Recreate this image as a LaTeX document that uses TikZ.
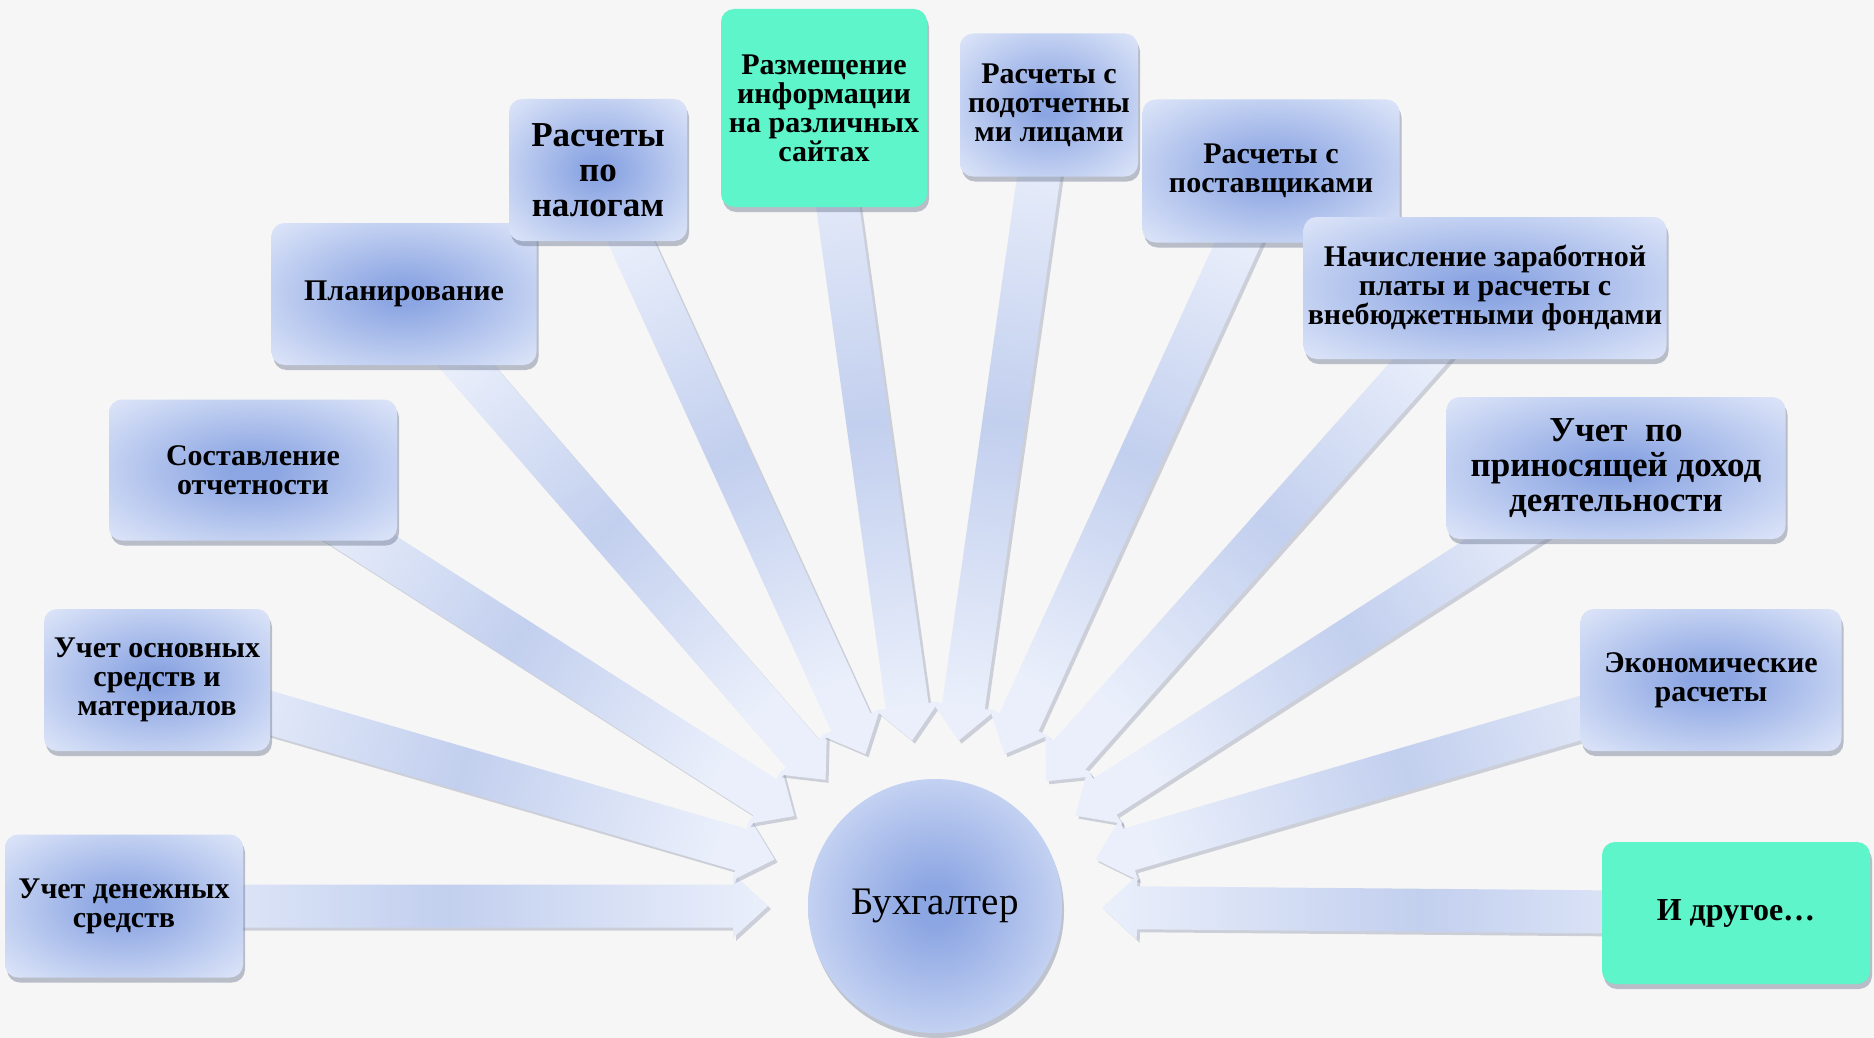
\documentclass[tikz,border=0pt]{standalone}
\usepackage{fontspec}
\setmainfont{Liberation Serif}
\usetikzlibrary{calc,shadows}

\definecolor{boxin}{HTML}{8CA6E3}
\definecolor{boxedge}{HTML}{D0DBF5}
\definecolor{boxcorner}{HTML}{EDF1FB}
\definecolor{beamend}{HTML}{EAEFFB}
\definecolor{beammid}{HTML}{C2CFEE}
\definecolor{mint}{HTML}{5DF5C9}
\definecolor{paper}{HTML}{F6F6F6}
\definecolor{shadowc}{HTML}{6D7891}

\pgfdeclareradialshading{glow}{\pgfpointorigin}{color(0bp)=(boxin); color(4bp)=(boxin); color(30bp)=(boxedge); color(42bp)=(boxcorner); color(50bp)=(boxcorner)}
\pgfdeclarehorizontalshading{beamshade}{100bp}{color(0bp)=(beamend); color(25bp)=(beamend); color(50bp)=(beammid); color(75bp)=(beamend); color(100bp)=(beamend)}

\pgfdeclarelayer{paperlayer}
\pgfdeclarelayer{beamlayer}
\pgfsetlayers{paperlayer,beamlayer,main}

% block arrow from a box towards the hub
\newcommand\drawbeam[2]{%
  \coordinate (#1-tip) at ($(#2)!83.5pt!(#1)$);
  \coordinate (#1-neck) at ($(#1-tip)!17.5pt!(#1)$);
  \pgfmathanglebetweenpoints{\pgfpointanchor{#1}{center}}{\pgfpointanchor{#1-tip}{center}}%
  \let\beamangle\pgfmathresult
  \shade[beam, shading angle=\beamangle]
    ($(#1)!10.75pt!90:(#1-neck)$) -- ($(#1-neck)!10.75pt!-90:(#1)$)
    -- ($(#1-neck)!16pt!-90:(#1)$) -- (#1-tip)
    -- ($(#1-neck)!16pt!90:(#1)$) -- ($(#1-neck)!10.75pt!90:(#1)$)
    -- ($(#1)!10.75pt!-90:(#1-neck)$) -- cycle;}

\begin{document}
\begin{tikzpicture}[x=0.5pt, y=-0.5pt,
  tbox/.style={rounded corners=6.5pt, align=center, inner sep=0pt,
    font=\bfseries\fontsize{15}{14.5}\selectfont,
    drop shadow={shadow xshift=1pt, shadow yshift=-2.5pt, fill=shadowc, opacity=.45}},
  task/.style={tbox, shade, shading=glow},
  hot/.style={tbox, fill=mint},
  big/.style={font=\bfseries\fontsize{17.5}{17.5}\selectfont},
  hub/.style={circle, minimum size=127pt, inner sep=0pt, shade, shading=glow,
    font=\fontsize{19.5}{22}\selectfont,
    drop shadow={shadow xshift=1pt, shadow yshift=-2.5pt, fill=shadowc, opacity=.4}},
  beam/.style={shading=beamshade,
    drop shadow={shadow xshift=1.5pt, shadow yshift=-1.5pt, fill=shadowc, opacity=.3}}]
\useasboundingbox (0,0) rectangle (1874,1038);
\begin{pgfonlayer}{paperlayer}
  \fill[paper] (0,0) rectangle (1874,1038);
\end{pgfonlayer}

\node[hub] (buh) at (935,906) {Бухгалтер};

\node[task, minimum width=119pt, minimum height=71.5pt] (den) at (124,906) {Учет денежных\\средств};
\node[task, minimum width=113pt, minimum height=71pt] (osn) at (157,680) {Учет основных\\средств и\\материалов};
\node[task, minimum width=144pt, minimum height=70.5pt] (otch) at (253,470) {Составление\\отчетности};
\node[task, minimum width=132.5pt, minimum height=71pt] (plan) at (404,294) {Планирование};
\node[task, big, minimum width=89pt, minimum height=71pt] (nal) at (598,170) {Расчеты\\по\\налогам};
\node[hot, minimum width=103pt, minimum height=99pt] (razm) at (824,108) {Размещение\\информации\\на различных\\сайтах};
\node[task, minimum width=89pt, minimum height=71.5pt] (podot) at (1049,105) {Расчеты с\\подотчетны\\ми лицами};
\node[task, minimum width=128.5pt, minimum height=71.5pt] (post) at (1271,171) {Расчеты с\\поставщиками};
\node[task, minimum width=181.5pt, minimum height=71pt] (zarp) at (1485,288) {Начисление заработной\\платы и расчеты с\\внебюджетными фондами};
\node[task, big, minimum width=169.5pt, minimum height=71pt] (dohod) at (1616,468) {Учет\ \ по\\приносящей доход\\деятельности};
\node[task, minimum width=130.5pt, minimum height=71pt] (econ) at (1711,680) {Экономические\\расчеты};
\node[hot, font=\bfseries\fontsize{16}{17}\selectfont, minimum width=134pt, minimum height=71pt] (other) at (1736,913) {И другое…};

\begin{pgfonlayer}{beamlayer}
  \foreach \b in {den,osn,otch,plan,nal,razm,podot,post,zarp,dohod,econ,other}
    {\drawbeam{\b}{buh}}
\end{pgfonlayer}
\end{tikzpicture}
\end{document}
